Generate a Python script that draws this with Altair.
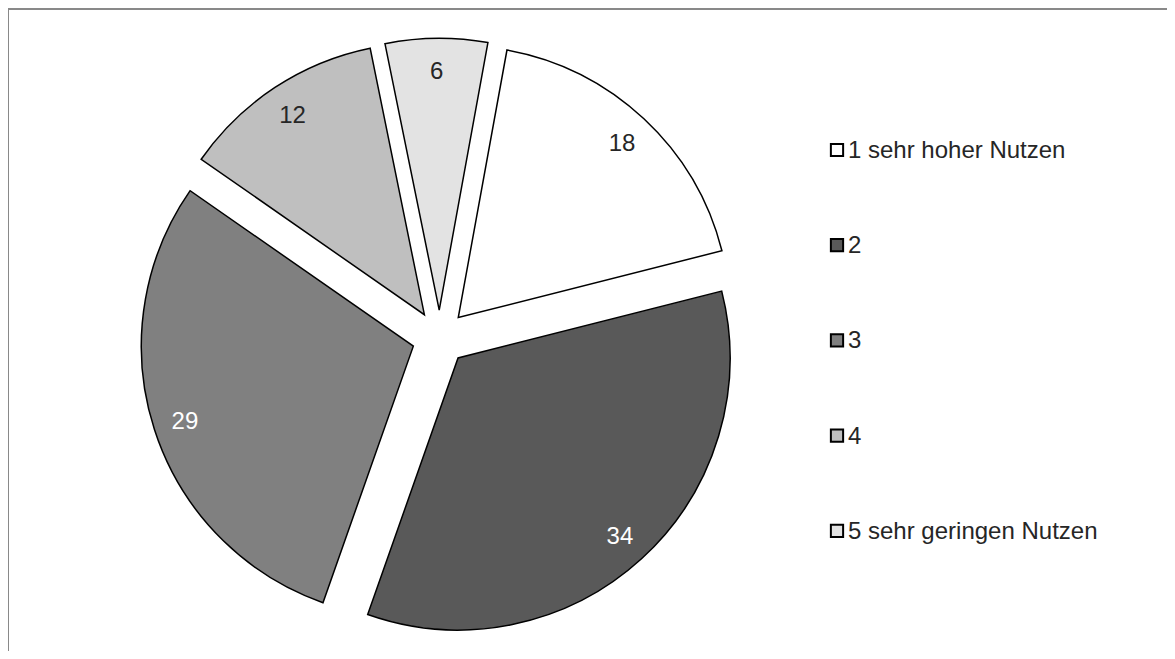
import altair as alt
import pandas as pd

# ---- data ----
categories = ["1 sehr hoher Nutzen", "2", "3", "4", "5 sehr geringen Nutzen"]
values = [18, 34, 29, 12, 6]

# ---- styles ----
palette = ["#ffffff", "#595959", "#808080", "#bfbfbf", "#e3e3e3"]
FONT = "Liberation Sans"
FS = 24

# ---- geometry (pixels inside the view) ----
W, H = 1159, 643
CX, CY = 431.5, 329.7      # pie centre
EXPLODE = 27.5             # slice offset along bisector
R = 272                    # pie radius
START = 0.18               # start angle (radians, clockwise from 12 o'clock)
LABEL_R = 240              # label distance from slice apex
LEG_X, LEG_Y0, LEG_STEP = 829, 142, 95.2

df = pd.DataFrame({"cat": categories, "value": values})

base = (
    alt.Chart(df)
    .transform_window(cum="sum(value)", idx="row_number()", frame=[None, 0])
    .transform_joinaggregate(total="sum(value)")
    .transform_calculate(
        a0=f"{START} + (datum.cum - datum.value) / datum.total * 2 * PI",
        a1=f"{START} + datum.cum / datum.total * 2 * PI",
    )
    .transform_calculate(mid="(datum.a0 + datum.a1) / 2")
    .transform_calculate(
        px=f"{CX} + {EXPLODE} * sin(datum.mid)",
        py=f"{CY} - {EXPLODE} * cos(datum.mid)",
    )
    .transform_calculate(
        lx=f"datum.px + {LABEL_R} * sin(datum.mid)",
        ly=f"datum.py - {LABEL_R} * cos(datum.mid)",
        gy=f"{LEG_Y0} + (datum.idx - 1) * {LEG_STEP}",
    )
)

color = alt.Color("cat:N", scale=alt.Scale(domain=categories, range=palette), legend=None)

arcs = base.mark_arc(radius=R, stroke="black", strokeWidth=1.5, strokeJoin="miter").encode(
    theta=alt.Theta("a0:Q", scale=None),
    theta2="a1:Q",
    x=alt.X("px:Q", scale=None),
    y=alt.Y("py:Q", scale=None),
    color=color,
)

labels = base.mark_text(font=FONT, fontSize=FS, align="center", baseline="middle", dy=2).encode(
    x=alt.X("lx:Q", scale=None),
    y=alt.Y("ly:Q", scale=None),
    text=alt.Text("value:Q"),
    color=alt.condition("datum.cat == '2' || datum.cat == '3'", alt.value("#ffffff"), alt.value("#262626")),
)

leg_sym = base.mark_square(size=150, stroke="black", strokeWidth=2, opacity=1).encode(
    x=alt.value(LEG_X),
    y=alt.Y("gy:Q", scale=None),
    color=color,
)

leg_txt = base.mark_text(font=FONT, fontSize=FS, align="left", baseline="middle", dy=1, color="#262626").encode(
    x=alt.value(LEG_X + 11),
    y=alt.Y("gy:Q", scale=None),
    text="cat:N",
)

frame_df = pd.DataFrame({"k": [0]})
top_border = alt.Chart(frame_df).mark_rule(color="#898989", strokeWidth=2).encode(
    x=alt.value(0), x2=alt.value(W), y=alt.value(1)
)
left_border = alt.Chart(frame_df).mark_rule(color="#898989", strokeWidth=2).encode(
    x=alt.value(0), y=alt.value(0), y2=alt.value(H)
)

chart = (
    alt.layer(arcs, labels, leg_sym, leg_txt, top_border, left_border)
    .properties(width=W, height=H, padding=0, autosize=alt.AutoSizeParams(type="none"))
    .configure_view(stroke=None)
)

chart.save("out.html", embed_options={"renderer": "svg", "actions": False})
